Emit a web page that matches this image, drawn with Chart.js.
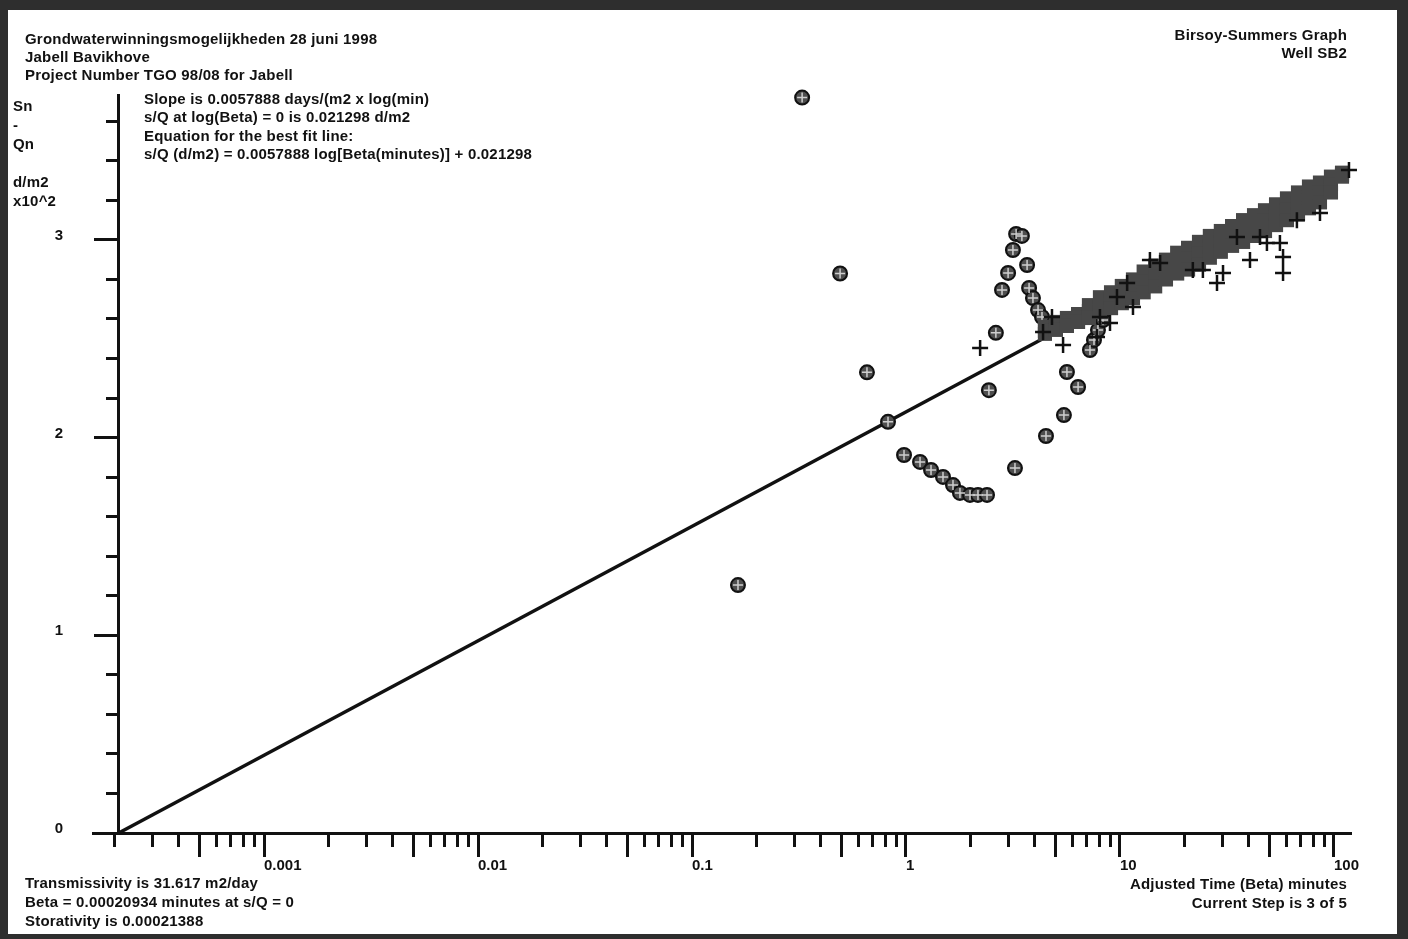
<!DOCTYPE html>
<html>
<head>
<meta charset="utf-8">
<title>Birsoy-Summers Graph</title>
<script src="https://cdn.jsdelivr.net/npm/chart.js@4/dist/chart.umd.min.js"></script>
<style>
    body { margin: 0; background: #fff; }
    #wrap { position: relative; width: 1408px; height: 939px; overflow: hidden; }
    #chart { position: absolute; left: 0; top: 0; }
    .txt {
        position: absolute;
        font: bold 15px 'Liberation Sans', Arial, sans-serif;
        letter-spacing: 0.2px;
        color: #111;
        white-space: nowrap;
    }
    .frame {
        position: absolute; left: 0; top: 0; width: 1408px; height: 939px;
        box-sizing: border-box;
        border-style: solid;
        border-color: #2e2e2e;
        border-width: 10px 11px 5px 8px;
        pointer-events: none;
    }
</style>
</head>
<body>
<div id="wrap">
    <canvas id="chart" width="1408" height="939"></canvas>

    <div class="txt" style="left:25px; top:30px; line-height:18.2px;">
        Grondwaterwinningsmogelijkheden 28 juni 1998<br>
        Jabell Bavikhove<br>
        Project Number TGO 98/08 for Jabell
    </div>
    <div class="txt" style="right:61px; top:26px; line-height:18.2px; text-align:right;">
        Birsoy-Summers Graph<br>
        Well SB2
    </div>
    <div class="txt" style="left:13px; top:96px; line-height:19px;">
        Sn<br>-<br>Qn<br>&nbsp;<br>d/m2<br>x10^2
    </div>
    <div class="txt" style="left:144px; top:90px; line-height:18.3px;">
        Slope is 0.0057888 days/(m2 x log(min)<br>
        s/Q at log(Beta) = 0 is 0.021298 d/m2<br>
        Equation for the best fit line:<br>
        s/Q (d/m2) = 0.0057888 log[Beta(minutes)] + 0.021298
    </div>
    <div class="txt" style="left:25px; top:873px; line-height:19px;">
        Transmissivity is 31.617 m2/day<br>
        Beta = 0.00020934 minutes at s/Q = 0<br>
        Storativity is 0.00021388
    </div>
    <div class="txt" style="right:61px; top:874px; line-height:19px; text-align:right;">
        Adjusted Time (Beta) minutes<br>
        Current Step is 3 of 5
    </div>

    <div class="frame"></div>
</div>

<script>
// Axis ranges
const xMin = 0.0001588;
const xMax = 118.8;
const betaZero = 0.00020934;
const yMin = 0;
const yMax = 3.733;

// Tick labels
const xDecades = [0.001, 0.01, 0.1, 1, 10, 100];
const xTickLabels = ['0.001', '0.01', '0.1', '1', '10', '100'];
const yLabelValues = [0, 1, 2, 3];

// Observed points (circles)
const circleX = [0.327, 0.492, 0.657, 0.824, 0.164, 0.979, 1.163, 1.309, 1.489, 1.658, 1.787, 1.991, 2.169, 2.391,
    3.23, 2.44, 2.63, 2.81, 3.00, 3.16, 3.27, 3.48, 3.68, 3.76, 3.92, 4.14, 4.32,
    7.24, 7.56, 7.89, 8.33, 5.65, 6.37, 5.47, 4.51];
const circleY = [3.72, 2.83, 2.33, 2.08, 1.254, 1.912, 1.877, 1.836, 1.801, 1.760, 1.720, 1.710, 1.710, 1.710,
    1.846, 2.24, 2.53, 2.747, 2.833, 2.949, 3.03, 3.02, 2.873, 2.757, 2.706, 2.645, 2.61,
    2.443, 2.494, 2.544, 2.595, 2.332, 2.256, 2.114, 2.008];

// Observed points (crosses)
const crossX = [2.22, 4.37, 4.81, 5.42, 7.81, 8.06, 8.98, 9.68, 10.8, 11.5, 13.8, 15.4, 21.9, 24.4, 28.4,
    30.3, 35.2, 40.5, 45.1, 48.6, 55.9, 57.8, 57.8, 67.1, 86.0, 117.5];
const crossY = [2.453, 2.534, 2.61, 2.468, 2.509, 2.61, 2.58, 2.711, 2.782, 2.661, 2.898, 2.883, 2.848, 2.848, 2.782,
    2.833, 3.015, 2.898, 3.015, 2.984, 2.984, 2.913, 2.833, 3.10, 3.136, 3.354];

// Dense band of late-time points (squares)
const bandX = [4.46, 5.02, 5.65, 6.37, 7.16, 8.06, 9.08, 10.2, 11.5, 12.9, 14.6, 16.4, 18.5, 20.8,
    23.4, 26.3, 29.6, 33.4, 37.6, 42.3, 47.6, 53.6, 60.3, 67.9, 76.4, 86.0, 96.8, 109];
const bandTopY = [2.56, 2.585, 2.605, 2.625, 2.67, 2.71, 2.735, 2.767, 2.80, 2.84, 2.87, 2.90, 2.935, 2.96,
    2.99, 3.02, 3.045, 3.07, 3.10, 3.125, 3.15, 3.18, 3.21, 3.24, 3.27, 3.29, 3.32, 3.34];
const bandMidY = [2.54, 2.565, 2.585, 2.605, 2.64, 2.67, 2.70, 2.72, 2.755, 2.79, 2.815, 2.85, 2.88, 2.905,
    2.93, 2.965, 2.99, 3.02, 3.045, 3.075, 3.10, 3.13, 3.155, 3.185, 3.215, 3.24, 3.28, 3.33];
const bandLowY = [2.525, 2.545, 2.565, 2.585, 2.605, 2.635, 2.655, 2.68, 2.705, 2.735, 2.765, 2.80, 2.83, 2.85,
    2.875, 2.91, 2.94, 2.97, 2.99, 3.02, 3.045, 3.075, 3.10, 3.13, 3.16, 3.19, 3.24, 3.32];

// Best fit line end points
const fitX = [betaZero, 100];
const fitY = [0, 3.288];

function toPoints(xs, ys) {
    return xs.map((x, i) => ({ x: x, y: ys[i] }));
}

// Minor and major tick values on the log axis
function buildLogTicks() {
    const ticks = [];
    for (let e = -4; e <= 2; e++) {
        for (let s = 1; s <= 9; s++) {
            const v = s * Math.pow(10, e);
            if (v >= xMin && v <= xMax) ticks.push({ value: v });
        }
    }
    return ticks;
}

function significand(v) {
    const e = Math.floor(Math.log10(v) + 1e-9);
    return Math.round(v / Math.pow(10, e));
}

function isMajorX(v) {
    const s = significand(v);
    return s === 1 || s === 5;
}

function decadeLabel(v) {
    for (let i = 0; i < xDecades.length; i++) {
        if (Math.abs(Math.log10(v) - Math.log10(xDecades[i])) < 1e-6) return xTickLabels[i];
    }
    return '';
}

Chart.defaults.font.family = "'Liberation Sans', Arial, sans-serif";
Chart.defaults.font.size = 15;
Chart.defaults.font.weight = 'bold';
Chart.defaults.color = '#111';

const circlePoints = toPoints(circleX, circleY);
const bandPoints = toPoints(bandX, bandTopY)
    .concat(toPoints(bandX, bandMidY))
    .concat(toPoints(bandX, bandLowY));

new Chart(document.getElementById('chart'), {
    type: 'scatter',
    data: {
        datasets: [
            {
                label: 'Step crosses',
                data: toPoints(crossX, crossY),
                pointStyle: 'cross',
                pointRadius: 8,
                borderColor: '#111',
                borderWidth: 2.5,
                order: 0,
                clip: false
            },
            {
                label: 'Late data',
                data: bandPoints,
                pointStyle: 'rect',
                pointRadius: 10,
                backgroundColor: '#474747',
                borderColor: '#474747',
                borderWidth: 0,
                order: 1,
                clip: false
            },
            {
                label: 'Circle marks',
                data: circlePoints,
                pointStyle: 'cross',
                pointRadius: 5,
                borderColor: '#cfcfcf',
                borderWidth: 1.5,
                order: 2,
                clip: false
            },
            {
                label: 'Observed',
                data: circlePoints,
                pointStyle: 'circle',
                pointRadius: 7,
                backgroundColor: '#4e4e4e',
                borderColor: '#111',
                borderWidth: 2,
                order: 3,
                clip: false
            },
            {
                type: 'line',
                label: 'Best fit',
                data: toPoints(fitX, fitY),
                borderColor: '#111',
                borderWidth: 3.5,
                pointRadius: 0,
                fill: false,
                order: 4,
                clip: false
            }
        ]
    },
    options: {
        responsive: false,
        animation: false,
        events: [],
        layout: {
            padding: { top: 95, right: 58, bottom: 0, left: 0 }
        },
        plugins: {
            legend: { display: false },
            tooltip: { enabled: false }
        },
        scales: {
            x: {
                type: 'logarithmic',
                position: 'bottom',
                min: xMin,
                max: xMax,
                afterBuildTicks: (axis) => { axis.ticks = buildLogTicks(); },
                afterFit: (axis) => { axis.height = 106; },
                grid: {
                    drawOnChartArea: false,
                    drawTicks: true,
                    tickLength: 24,
                    color: '#111',
                    lineWidth: 3,
                    tickBorderDash: (ctx) => (ctx.tick && isMajorX(ctx.tick.value)) ? [] : [12, 40]
                },
                border: { display: true, color: '#111', width: 3 },
                ticks: {
                    autoSkip: false,
                    maxRotation: 0,
                    align: 'start',
                    padding: 0,
                    callback: (value) => decadeLabel(value)
                }
            },
            y: {
                type: 'linear',
                position: 'left',
                min: yMin,
                max: yMax,
                afterBuildTicks: (axis) => { axis.ticks = yLabelValues.map(v => ({ value: v })); },
                afterFit: (axis) => { axis.width = 93; },
                grid: { display: false, drawTicks: false },
                border: { display: false },
                ticks: { padding: 30, labelOffset: -4 }
            },
            y2: {
                type: 'linear',
                position: { x: betaZero },
                min: yMin,
                max: yMax,
                afterBuildTicks: (axis) => {
                    const t = [];
                    for (let k = 0; k <= 18; k++) t.push({ value: k / 5 });
                    axis.ticks = t;
                },
                grid: {
                    drawOnChartArea: false,
                    drawTicks: true,
                    tickLength: 23,
                    color: '#111',
                    lineWidth: 3,
                    tickBorderDash: (ctx) => (ctx.tick && Math.abs(ctx.tick.value - Math.round(ctx.tick.value)) < 1e-6) ? [] : [11, 40]
                },
                border: { display: true, color: '#111', width: 3 },
                ticks: { display: false }
            }
        }
    }
});
</script>
</body>
</html>
